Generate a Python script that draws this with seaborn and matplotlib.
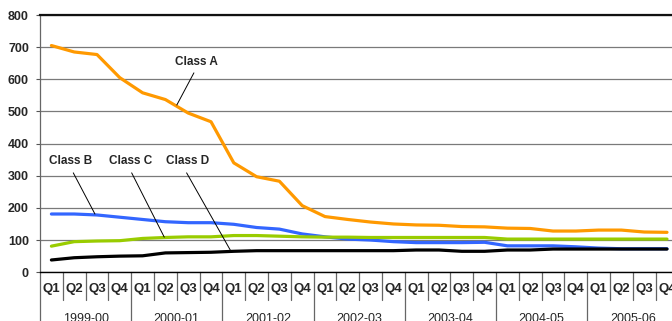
import pandas as pd
import matplotlib
matplotlib.use("Agg")
import matplotlib.pyplot as plt
import seaborn as sns

# Financial years and quarters on the category axis
years = ["1999-00", "2000-01", "2001-02", "2002-03", "2003-04", "2004-05", "2005-06"]
quarters = ["Q1", "Q2", "Q3", "Q4"]

# Quarterly values per class
class_names = ["Class A", "Class B", "Class C", "Class D"]
class_a = [705, 685, 677, 605, 558, 537, 495, 468, 340, 297,
           283, 207, 173, 164, 156, 150, 147, 146,
           142, 141, 137, 136, 128, 128, 131, 131, 125, 124]
class_b = [181, 181, 178, 171, 164, 157, 154, 154, 149, 139,
           134, 119, 110, 103, 100, 95, 92, 92,
           92, 93, 82, 82, 82, 79, 75, 73, 73, 73]
class_c = [81, 95, 97, 98, 105, 108, 110, 110, 114, 114,
           112, 110, 109, 109, 108, 108, 108, 108,
           108, 108, 103, 103, 103, 103, 103, 103, 103, 103]
class_d = [38, 45, 48, 50, 51, 60, 61, 62, 65, 67,
           67, 67, 67, 67, 67, 67, 69, 69,
           65, 65, 69, 69, 72, 72, 72, 72, 72, 72]
colors = ["#FF9900", "#3366FF", "#99CC00", "#000000"]

n = len(years) * len(quarters)
rows = []
for name, vals in zip(class_names, [class_a, class_b, class_c, class_d]):
    for i, v in enumerate(vals):
        rows.append({"idx": i, "value": v, "series": name})
df = pd.DataFrame(rows)

sns.set_style("white")
plt.rcParams["font.family"] = ["Liberation Sans", "DejaVu Sans"]

W, H = 672, 321
fig = plt.figure(figsize=(W / 100, H / 100), dpi=100)
ax = fig.add_axes([40 / W, (H - 272.2) / H, 638.4 / W, 257.2 / H])

sns.lineplot(data=df, x="idx", y="value", hue="series",
             palette=dict(zip(class_names, colors)), linewidth=2.3,
             legend=False, ax=ax, solid_joinstyle="round", solid_capstyle="round")

ax.set_xlim(-0.5, n - 0.5)
ax.set_ylim(0, 800)
ax.set_xlabel("")
ax.set_ylabel("")

# Value axis
ax.set_yticks(range(0, 801, 100))
ax.set_yticklabels([str(v) for v in range(0, 801, 100)], fontweight="bold", fontsize=9)
ax.tick_params(axis="y", length=3, width=0.8, pad=5, color="#555555", left=True)
ax.yaxis.grid(True, color="#7a7a7a", linewidth=0.9)
ax.set_axisbelow(True)

ax.spines["right"].set_visible(False)
ax.spines["top"].set_color("#111111")
ax.spines["top"].set_linewidth(1.6)
ax.spines["bottom"].set_color("#000000")
ax.spines["bottom"].set_linewidth(1.0)
ax.spines["left"].set_color("#666666")
ax.spines["left"].set_linewidth(0.9)

# Category axis: quarter labels, separators and year labels
ax.set_xticks(range(n))
ax.set_xticklabels(quarters * len(years), fontweight="bold", fontsize=9.5)
ax.tick_params(axis="x", length=0, pad=7.5)

trans = ax.get_xaxis_transform()
for k in range(0, n):
    x = k - 0.5
    y_end = -0.25 if k % 4 == 0 else -0.108
    ax.plot([x, x], [0, y_end], transform=trans, color="#666666",
            linewidth=0.9, clip_on=False)
for i, yr in enumerate(years):
    ax.text(4 * i + 1.5, -0.183, yr, transform=trans, ha="center", va="center",
            fontsize=9)

# Series labels with leader lines
labels = [
    ("Class A", (6.34, 654), (6.25, 620), (5.5, 520)),
    ("Class B", (0.86, 346), (0.96, 309), (1.91, 181)),
    ("Class C", (3.49, 346), (3.52, 309), (4.95, 109)),
    ("Class D", (5.99, 346), (5.93, 309), (7.86, 67)),
]
for text, pos, p0, p1 in labels:
    ax.text(pos[0], pos[1], text, ha="center", va="center", fontsize=8.5,
            fontweight="bold")
    ax.plot([p0[0], p1[0]], [p0[1], p1[1]], color="#000000", linewidth=0.7)

fig.savefig("out.png", dpi=100)
